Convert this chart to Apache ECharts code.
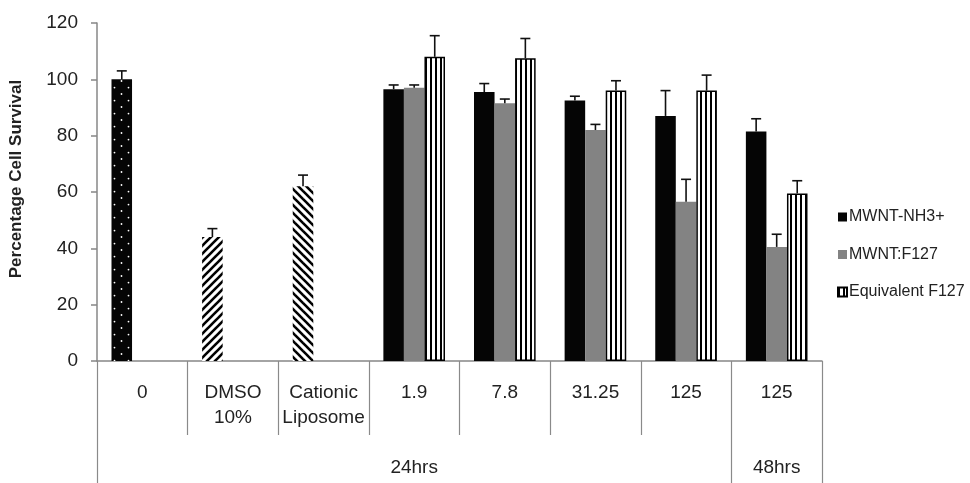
<!DOCTYPE html>
<html>
<head>
<meta charset="utf-8">
<script src="https://cdn.jsdelivr.net/npm/echarts@6/dist/echarts.min.js"></script>
<style>
  html, body { margin: 0; padding: 0; background: #fff; }
  #chart { width: 970px; height: 483px; }
</style>
</head>
<body>
<div id="chart"></div>
<script>
// concentrations (µg/ml) and treatments
const categories = ['0', 'DMSO\n10%', 'Cationic\nLiposome', '1.9', '7.8', '31.25', '125', '125'];
const timeLabels = ['', '', '', '24hrs', '', '', '', '48hrs'];
const seriesNames = ['MWNT-NH3+', 'MWNT:F127', 'Equivalent F127'];

const nh3Values = [100, 44, 62, 96.5, 95.5, 92.5, 87, 81.5];
const nh3Errors = [3, 3, 4, 1.5, 3, 1.5, 9, 4.5];
const f127Values = [null, null, null, 97, 91.5, 82, 56.5, 40.5];
const f127Errors = [null, null, null, 1, 1.5, 2, 8, 4.5];
const equivValues = [null, null, null, 108, 107.5, 96, 96, 59.5];
const equivErrors = [null, null, null, 7.5, 7, 3.5, 5.5, 4.5];

const yTicks = { min: 0, max: 120, step: 20 };

const FONT = '"Liberation Sans", Arial, sans-serif';

// fill patterns
function makePattern(w, h, draw) {
    const c = document.createElement('canvas');
    c.width = w;
    c.height = h;
    draw(c.getContext('2d'), w, h);
    return { image: c, repeat: 'repeat' };
}

const dotPattern = makePattern(14, 13, (ctx, w, h) => {
    ctx.fillStyle = '#050505';
    ctx.fillRect(0, 0, w, h);
    ctx.fillStyle = '#fff';
    [[9.5, 3], [2.5, 9.6]].forEach(([x, y]) => {
        ctx.beginPath();
        ctx.arc(x, y, 0.9, 0, Math.PI * 2);
        ctx.fill();
    });
});

function diagPattern(forward) {
    return makePattern(8, 8, (ctx, s) => {
        ctx.fillStyle = '#fff';
        ctx.fillRect(0, 0, s, s);
        ctx.strokeStyle = '#000';
        ctx.lineWidth = 2.6;
        const segs = forward
            ? [[0, s, s, 0], [-2, 2, 2, -2], [s - 2, s + 2, s + 2, s - 2]]
            : [[0, 0, s, s], [-2, s - 2, 2, s + 2], [s - 2, -2, s + 2, 2]];
        segs.forEach(([x1, y1, x2, y2]) => {
            ctx.beginPath();
            ctx.moveTo(x1, y1);
            ctx.lineTo(x2, y2);
            ctx.stroke();
        });
    });
}

const stripePattern = makePattern(5, 4, (ctx, w, h) => {
    ctx.fillStyle = '#fff';
    ctx.fillRect(0, 0, w, h);
    ctx.fillStyle = '#000';
    ctx.fillRect(0, 0, 2, h);
});

const BAR_SHARE = 0.68;

function errorRenderer(slot) {
    return function (params, api) {
        const idx = api.value(0);
        const v = api.value(1);
        const e = api.value(2);
        const bw = api.size([1, 0])[0] * BAR_SHARE / 3;
        const base = api.coord([idx, v]);
        const top = api.coord([idx, v + e]);
        const x = base[0] + (slot - 1) * bw;
        const style = { stroke: '#111', lineWidth: 1.6 };
        return {
            type: 'group',
            children: [
                { type: 'line', shape: { x1: x, y1: base[1], x2: x, y2: top[1] }, style },
                { type: 'line', shape: { x1: x - 5, y1: top[1], x2: x + 5, y2: top[1] }, style }
            ]
        };
    };
}

function errorData(values, errors) {
    const out = [];
    values.forEach((v, i) => {
        if (v != null) out.push([i, v, errors[i]]);
    });
    return out;
}

const firstBarData = nh3Values.map((v, i) => {
    if (i === 0) return { value: v, itemStyle: { color: dotPattern } };
    if (i === 1) return { value: v, itemStyle: { color: diagPattern(true) } };
    if (i === 2) return { value: v, itemStyle: { color: diagPattern(false) } };
    return v;
});

const chart = echarts.init(document.getElementById('chart'));

chart.setOption({
    animation: false,
    textStyle: { fontFamily: FONT },
    grid: { left: 96, right: 148, top: 23, bottom: 122, containLabel: false },
    legend: {
        orient: 'vertical',
        left: 832,
        top: 204,
        itemWidth: 9,
        itemHeight: 9,
        itemGap: 21.5,
        icon: 'rect',
        data: seriesNames,
        textStyle: { fontSize: 16, color: '#222', lineHeight: 16, padding: [0, 0, 0, -3] }
    },
    xAxis: [
        {
            type: 'category',
            data: categories,
            axisLine: { show: true, lineStyle: { color: '#878787', width: 1.5 } },
            axisTick: { show: true, interval: 0, length: 74, lineStyle: { color: '#8a8a8a', width: 1.2 } },
            axisLabel: { interval: 0, fontSize: 19, color: '#222', margin: 19, lineHeight: 25 }
        },
        {
            type: 'category',
            data: timeLabels,
            position: 'bottom',
            offset: 74,
            axisLine: { show: false },
            axisTick: {
                show: true,
                length: 48,
                interval: (i) => i === 0 || i === 7,
                lineStyle: { color: '#8a8a8a', width: 1.2 }
            },
            axisLabel: {
                interval: (i, val) => val !== '',
                fontSize: 19,
                color: '#222',
                margin: 20,
                lineHeight: 25
            }
        }
    ],
    yAxis: {
        type: 'value',
        min: yTicks.min,
        max: yTicks.max,
        interval: yTicks.step,
        name: 'Percentage Cell Survival',
        nameLocation: 'middle',
        nameGap: 72,
        nameTextStyle: { fontSize: 17, fontWeight: 'bold', color: '#222', padding: [0, 0, 0, 26] },
        axisLine: { show: true, lineStyle: { color: '#878787', width: 1.5 } },
        axisTick: { show: true, length: 6, lineStyle: { color: '#878787', width: 1.5 } },
        axisLabel: { fontSize: 19, color: '#222', margin: 19 },
        splitLine: { show: false }
    },
    series: [
        {
            name: seriesNames[0],
            type: 'bar',
            data: firstBarData,
            barGap: '0%',
            barCategoryGap: '32%',
            itemStyle: { color: '#050505' }
        },
        {
            name: seriesNames[1],
            type: 'bar',
            data: f127Values,
            barGap: '0%',
            barCategoryGap: '32%',
            itemStyle: { color: '#838383' }
        },
        {
            name: seriesNames[2],
            type: 'bar',
            data: equivValues,
            barGap: '0%',
            barCategoryGap: '32%',
            itemStyle: { color: stripePattern, borderColor: '#000', borderWidth: 1.5 }
        },
        {
            type: 'custom',
            renderItem: errorRenderer(0),
            data: errorData(nh3Values, nh3Errors),
            z: 5
        },
        {
            type: 'custom',
            renderItem: errorRenderer(1),
            data: errorData(f127Values, f127Errors),
            z: 5
        },
        {
            type: 'custom',
            renderItem: errorRenderer(2),
            data: errorData(equivValues, equivErrors),
            z: 5
        }
    ]
});
</script>
</body>
</html>
